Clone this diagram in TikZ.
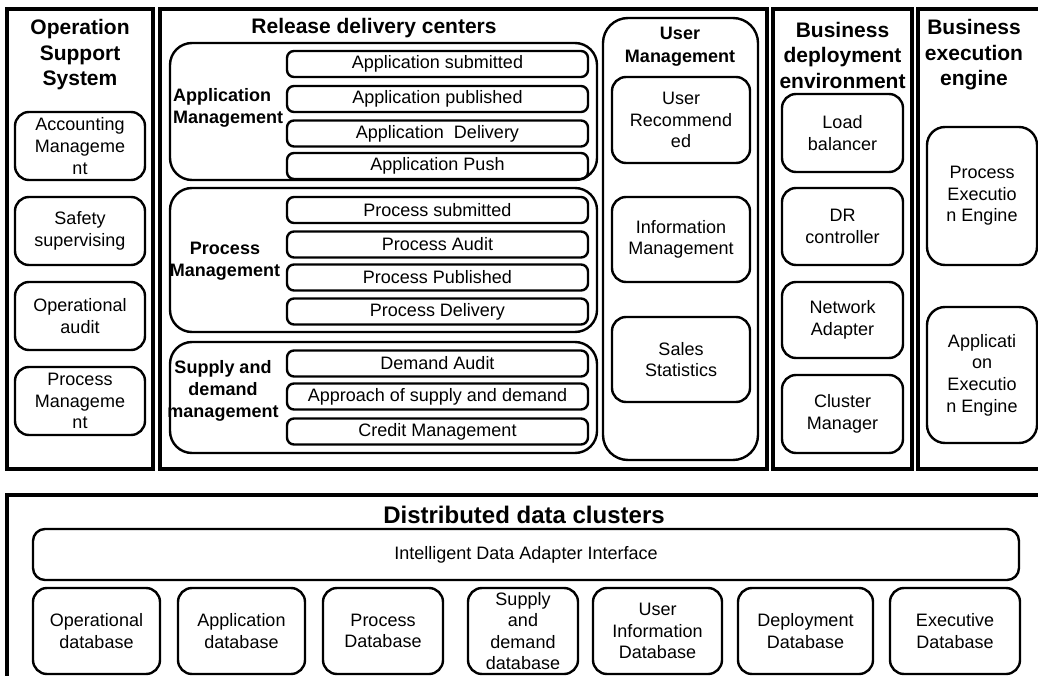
\documentclass[tikz,border=0pt]{standalone}
\usepackage{fontspec}
\setmainfont{Liberation Sans}
\begin{document}
\begin{tikzpicture}[x=1pt,y=-1pt,
 frame/.style={draw, line width=3.2pt, inner sep=0pt},
 grp/.style={draw, line width=2.4pt, rounded corners=22pt, inner sep=0pt},
 item/.style={draw, line width=2.4pt, rounded corners=7pt, inner sep=0pt, minimum width=301pt, minimum height=26pt, font=\fontsize{18}{21}\selectfont},
 blk/.style={draw, line width=2.4pt, rounded corners=14pt, inner sep=0pt, align=center, font=\fontsize{18}{21.6}\selectfont},
 ttl/.style={font=\bfseries\fontsize{21}{25.5}\selectfont, align=center, inner sep=0pt},
 lbl/.style={font=\bfseries\fontsize{18}{22}\selectfont, align=center, inner sep=0pt}]
\useasboundingbox (0,0) rectangle (1038,676);
\fill[white] (0,0) rectangle (1038,676);
\clip (0,0) rectangle (1038,676);

% ---- top frames
\node[frame, minimum width=146pt, minimum height=460pt] (oss) at (80,239) {};
\node[frame, minimum width=607pt, minimum height=460pt] (rdc) at (463.5,239) {};
\node[frame, minimum width=139pt, minimum height=460pt] (bde) at (842.5,239) {};
\node[frame, minimum width=132pt, minimum height=460pt] (bee) at (984,239) {};

% ---- Operation Support System
\node[ttl] (ossT) at (80,55) {Operation\\Support\\System};
\node[blk, minimum width=130pt, minimum height=68pt] (acc) at (80,146) {Accounting\\Manageme\\nt};
\node[blk, minimum width=130pt, minimum height=68pt] (saf) at (80,231) {Safety\\supervising};
\node[blk, minimum width=130pt, minimum height=68pt] (opa) at (80,316) {Operational\\audit};
\node[blk, minimum width=130pt, minimum height=68pt] (prm) at (80,401) {Process\\Manageme\\nt};

% ---- Release delivery centers
\node[ttl] (rdcT) at (374,28) {Release delivery centers};

\node[grp, minimum width=427pt, minimum height=137pt] (appG) at (383.5,111.5) {};
\node[lbl, anchor=west, align=left] (appL) at (173,108) {Application\\Management};
\node[item] (a1) at (437.5,64) {Application submitted};
\node[item] (a2) at (437.5,99) {Application published};
\node[item] (a3) at (437.5,133.5) {Application~ Delivery};
\node[item] (a4) at (437.5,166) {Application Push};

\node[grp, minimum width=427pt, minimum height=144pt] (proG) at (383.5,260) {};
\node[lbl] (proL) at (225,261) {Process\\Management};
\node[item] (p1) at (437.5,210) {Process submitted};
\node[item] (p2) at (437.5,244.5) {Process Audit};
\node[item] (p3) at (437.5,277.5) {Process Published};
\node[item] (p4) at (437.5,311.5) {Process Delivery};

\node[grp, minimum width=427pt, minimum height=111pt] (supG) at (383.5,397.5) {};
\node[lbl] (supL) at (223,391) {Supply and\\demand\\management};
\node[item] (s1) at (437.5,363.5) {Demand Audit};
\node[item] (s2) at (437.5,396.5) {Approach of supply and demand};
\node[item] (s3) at (437.5,431.5) {Credit Management};

\node[grp, rounded corners=25pt, minimum width=155pt, minimum height=442pt] (usrG) at (680.5,239) {};
\node[lbl, font=\bfseries\fontsize{18}{23}\selectfont] (usrL) at (680,47) {User\\Management};
\node[blk, minimum width=138pt, minimum height=86pt] (u1) at (681,120) {User\\Recommend\\ed};
\node[blk, minimum width=138pt, minimum height=85pt] (u2) at (681,239.5) {Information\\Management};
\node[blk, minimum width=138pt, minimum height=85pt] (u3) at (681,359.5) {Sales\\Statistics};

% ---- Business deployment environment
\node[ttl] (bdeT) at (842.5,55) {Business\\deployment\\environment};
\node[blk, minimum width=121pt, minimum height=78pt] (d1) at (842.5,133) {Load\\balancer};
\node[blk, minimum width=121pt, minimum height=77pt] (d2) at (842.5,226.5) {DR\\controller};
\node[blk, minimum width=121pt, minimum height=76pt] (d3) at (842.5,320) {Network\\Adapter};
\node[blk, minimum width=121pt, minimum height=78pt] (d4) at (842.5,414) {Cluster\\Manager};

% ---- Business execution engine
\node[ttl] (beeT) at (974,55) {Business\\execution\\engine};
\node[blk, rounded corners=18pt, minimum width=110pt, minimum height=138pt] (e1) at (982,196) {Process\\Executio\\n Engine};
\node[blk, rounded corners=18pt, minimum width=110pt, minimum height=136pt] (e2) at (982,375) {Applicati\\on\\Executio\\n Engine};

% ---- Distributed data clusters
\node[frame, minimum width=1043pt, minimum height=215pt] (ddc) at (528.5,602.5) {};
\node[ttl, font=\bfseries\fontsize{24}{28}\selectfont] (ddcT) at (524,515) {Distributed data clusters};
\node[blk, rounded corners=12pt, minimum width=986pt, minimum height=51pt] (ida) at (526,554.5) {Intelligent Data Adapter Interface};
\node[blk, minimum width=127pt, minimum height=86pt] (db1) at (96.5,631) {Operational\\database};
\node[blk, minimum width=127pt, minimum height=86pt] (db2) at (241.5,631) {Application\\database};
\node[blk, minimum width=120pt, minimum height=86pt] (db3) at (383,631) {Process\\Database};
\node[blk, minimum width=110pt, minimum height=86pt] (db4) at (523,631) {Supply\\and\\demand\\database};
\node[blk, minimum width=129pt, minimum height=86pt] (db5) at (657.5,631) {User\\Information\\Database};
\node[blk, minimum width=135pt, minimum height=86pt] (db6) at (805.5,631) {Deployment\\Database};
\node[blk, minimum width=130pt, minimum height=86pt] (db7) at (955,631) {Executive\\Database};
\end{tikzpicture}
\end{document}
